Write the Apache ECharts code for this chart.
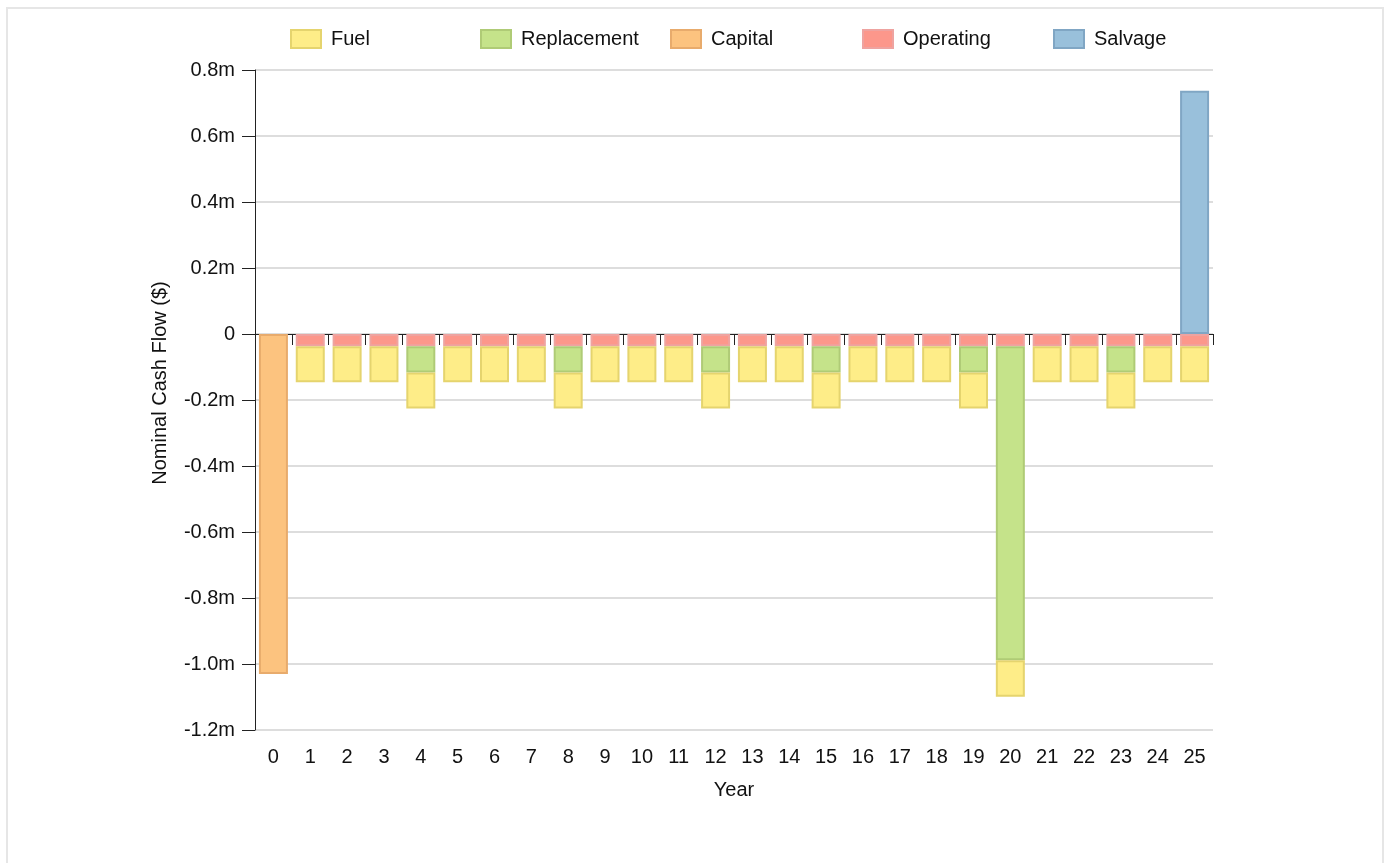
<!DOCTYPE html>
<html>
<head>
<meta charset="utf-8">
<script src="https://cdn.jsdelivr.net/npm/echarts@6/dist/echarts.min.js"></script>
<style>
  html, body { margin: 0; padding: 0; background: #fff; }
  #frame { position: absolute; left: 6px; top: 7px; width: 1378px; height: 900px; border: 2px solid #e6e6e6; box-sizing: border-box; }
  #chart { position: absolute; left: 0; top: 0; width: 1388px; height: 863px; }
</style>
</head>
<body>
<div id="frame"></div>
<div id="chart"></div>
<script>
const years = ['0','1','2','3','4','5','6','7','8','9','10','11','12','13','14','15','16','17','18','19','20','21','22','23','24','25'];
const capital = [-1030000,null,null,null,null,null,null,null,null,null,null,null,null,null,null,null,null,null,null,null,null,null,null,null,null,null];
const operating = [null,-37000,-37000,-37000,-37000,-37000,-37000,-37000,-37000,-37000,-37000,-37000,-37000,-37000,-37000,-37000,-37000,-37000,-37000,-37000,-37000,-37000,-37000,-37000,-37000,-37000];
const replacement = [null,null,null,null,-80000,null,null,null,-80000,null,null,null,-80000,null,null,-80000,null,null,null,-80000,-952000,null,null,-80000,null,null];
const fuel = [null,-109000,-109000,-109000,-109000,-109000,-109000,-109000,-109000,-109000,-109000,-109000,-109000,-109000,-109000,-109000,-109000,-109000,-109000,-109000,-110000,-109000,-109000,-109000,-109000,-109000];
const salvage = [null,null,null,null,null,null,null,null,null,null,null,null,null,null,null,null,null,null,null,null,null,null,null,null,null,737000];
const yTickValues = [-1200000,-1000000,-800000,-600000,-400000,-200000,0,200000,400000,600000,800000];
const yTickLabels = ['-1.2m','-1.0m','-0.8m','-0.6m','-0.4m','-0.2m','0','0.2m','0.4m','0.6m','0.8m'];
const legendNames = ['Fuel','Replacement','Capital','Operating','Salvage'];

const FONT = 'Liberation Sans, Arial, sans-serif';
const FS = 20;

function barSeries(name, data, fill, border) {
  return {
    name: name, type: 'bar', stack: 'total', data: data,
    barWidth: 29,
    itemStyle: { color: fill, borderColor: border, borderWidth: 2 }
  };
}

const legendLefts = [290, 480, 670, 862, 1053];
const legends = legendNames.map(function (n, i) {
  return {
    data: [n], left: legendLefts[i], top: 29, padding: 0,
    icon: 'rect', itemWidth: 30, itemHeight: 18, itemGap: 10,
    textStyle: { fontSize: FS, color: '#111', fontFamily: FONT, padding: [0, 0, 0, 5] }
  };
});

const chart = echarts.init(document.getElementById('chart'), null, { renderer: 'canvas' });
chart.setOption({
  backgroundColor: 'transparent',
  animation: false,
  textStyle: { fontFamily: FONT },
  legend: legends,
  grid: { left: 255, right: 175, top: 70, bottom: 133 },
  xAxis: [
    {
      type: 'category', data: years, position: 'bottom',
      axisLine: { show: false, onZero: false },
      axisTick: { show: false },
      axisLabel: { fontSize: FS, color: '#111', margin: 17, fontFamily: FONT },
      name: 'Year', nameLocation: 'middle', nameGap: 50,
      nameTextStyle: { fontSize: FS, color: '#111', fontFamily: FONT }
    },
    {
      type: 'category', data: years, position: 'bottom',
      axisLine: { show: true, onZero: true, lineStyle: { color: '#222', width: 1 } },
      axisTick: { show: true, length: 11, lineStyle: { color: '#222', width: 1 } },
      axisLabel: { show: false }
    }
  ],
  yAxis: {
    type: 'value', min: -1200000, max: 800000, interval: 200000,
    axisLine: { show: true, lineStyle: { color: '#222', width: 1 } },
    axisTick: { show: true, length: 13, lineStyle: { color: '#222' } },
    axisLabel: {
      fontSize: FS, color: '#111', margin: 20, fontFamily: FONT,
      formatter: function (v) { const i = yTickValues.indexOf(v); return i >= 0 ? yTickLabels[i] : ''; }
    },
    splitLine: { show: true, lineStyle: { color: '#dddddd', width: 2 } },
    name: 'Nominal Cash Flow ($)', nameLocation: 'middle', nameGap: 85,
    nameTextStyle: { fontSize: FS, color: '#111', fontFamily: FONT, padding: [0, 0, 0, 34] }
  },
  series: [
    barSeries('Capital', capital, '#fcc37f', '#e8ab6c'),
    barSeries('Operating', operating, '#fc978b', '#eea3a0'),
    barSeries('Replacement', replacement, '#c5e38a', '#afcb76'),
    barSeries('Fuel', fuel, '#feed88', '#e5d46e'),
    barSeries('Salvage', salvage, '#99c0db', '#80a6c4')
  ]
});
</script>
</body>
</html>
